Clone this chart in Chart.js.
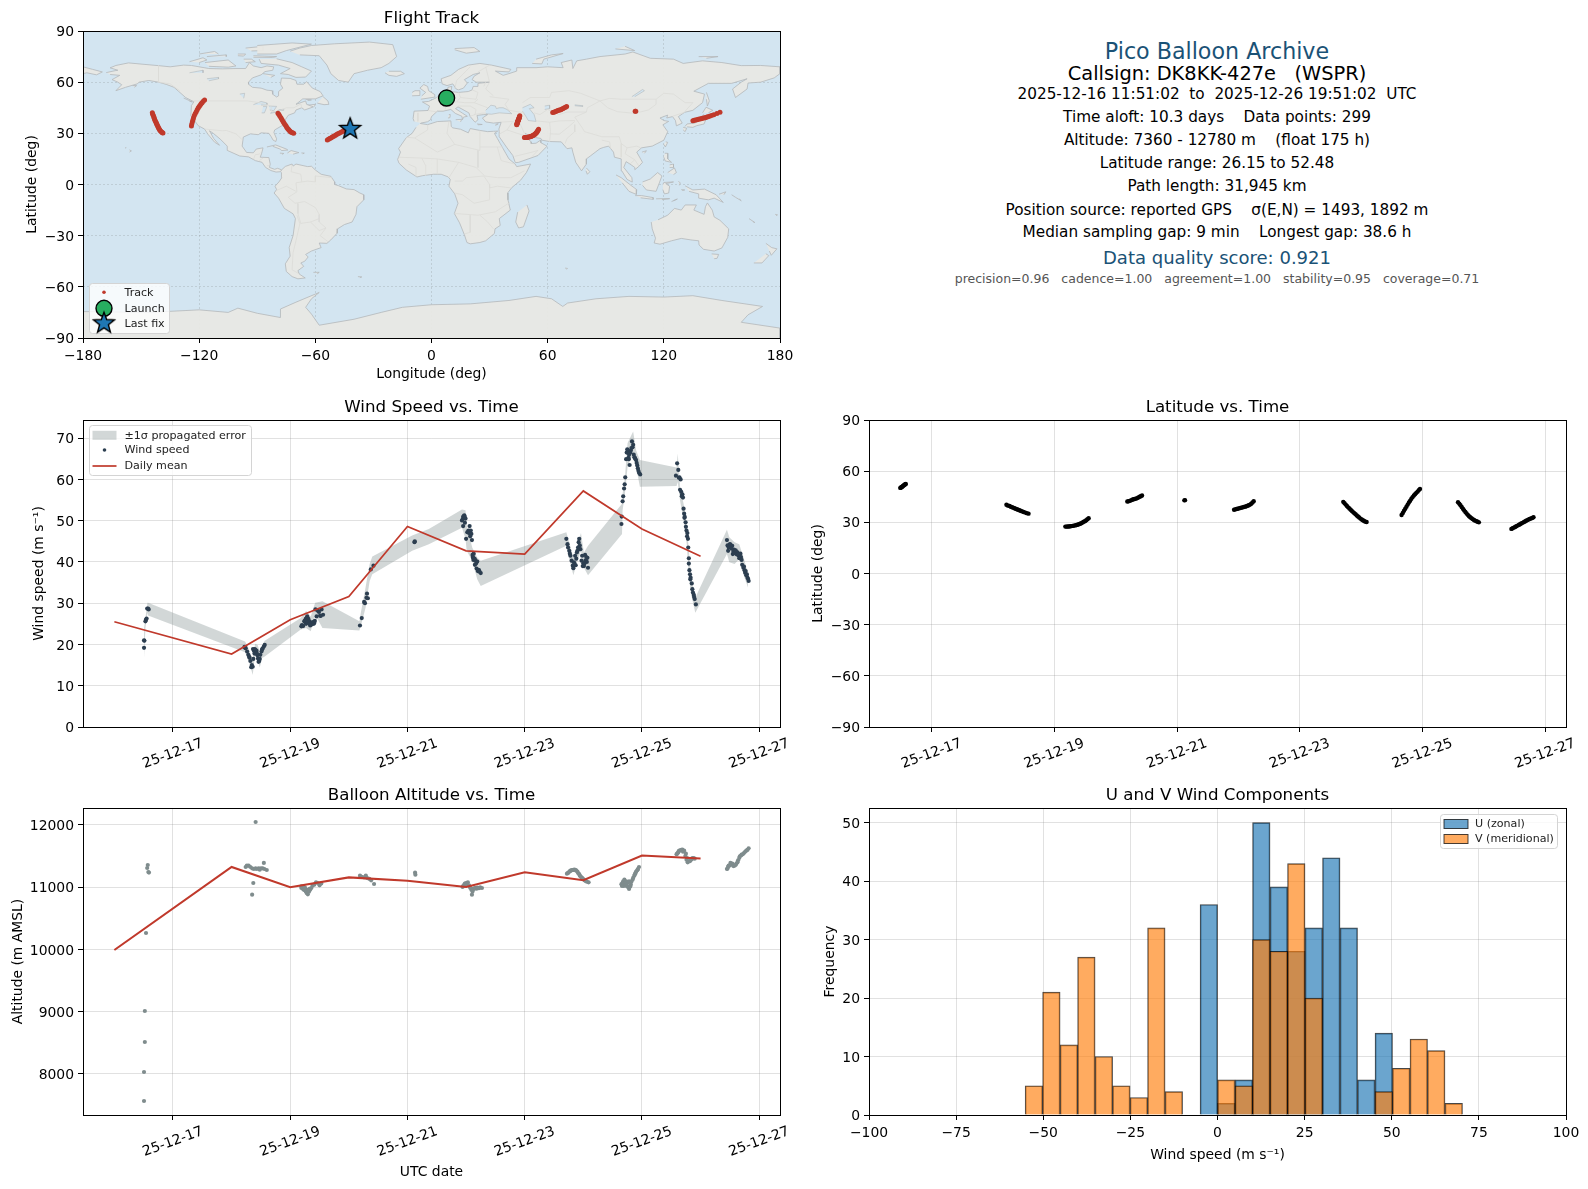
<!DOCTYPE html>
<html><head><meta charset="utf-8"><title>Pico Balloon Archive</title>
<script src="https://cdn.jsdelivr.net/npm/chart.js@4"></script>
<style>
html,body{margin:0;padding:0;background:#fff;width:1588px;height:1189px;overflow:hidden;font-family:"DejaVu Sans",sans-serif}
canvas{position:absolute}
.info{position:absolute;left:1217px;transform:translate(-50%,-50%);white-space:pre;color:#000}
</style></head><body>
<script>
// ---------- categories / ticks ----------
const timeTicks=[17,19,21,23,25,27];
const timeTickLabels=['25-12-17','25-12-19','25-12-21','25-12-23','25-12-25','25-12-27'];
const lonTicks=[-180,-120,-60,0,60,120,180];
const latTicks=[-90,-60,-30,0,30,60,90];
const windTicks=[0,10,20,30,40,50,60,70];
const altTicks=[8000,9000,10000,11000,12000];
const histXTicks=[-100,-75,-50,-25,0,25,50,75,100];
const histYTicks=[0,10,20,30,40,50];
const infoLines=[
 ['Pico Balloon Archive',51,22.2,'#1a5276'],
 ['Callsign: DK8KK-427e   (WSPR)',73,19.4,'#000'],
 ['2025-12-16 11:51:02  to  2025-12-26 19:51:02  UTC',94,15.28,'#000'],
 ['Time aloft: 10.3 days    Data points: 299',117,15.28,'#000'],
 ['Altitude: 7360 - 12780 m    (float 175 h)',140,15.28,'#000'],
 ['Latitude range: 26.15 to 52.48',163,15.28,'#000'],
 ['Path length: 31,945 km',186,15.28,'#000'],
 ['Position source: reported GPS    σ(E,N) = 1493, 1892 m',209.5,15.28,'#000'],
 ['Median sampling gap: 9 min    Longest gap: 38.6 h',232,15.28,'#000'],
 ['Data quality score: 0.921',257,18.05,'#1a5276'],
 ['precision=0.96   cadence=1.00   agreement=1.00   stability=0.95   coverage=0.71',278,12.5,'#555'],
];
// ---------- track ----------
const trackDay=[16.49,16.50,16.51,16.52,16.53,16.54,16.55,16.56,16.57,16.58,
18.22,18.24,18.27,18.29,18.31,18.33,18.35,18.37,18.39,18.41,18.43,18.45,18.47,18.50,18.53,18.55,18.58,
19.18,19.20,19.22,19.24,19.26,19.28,19.30,19.32,19.34,19.36,19.38,19.40,19.42,19.44,19.46,19.48,19.50,19.52,19.54,19.56,
20.19,20.21,20.23,20.25,20.27,20.29,20.31,20.33,20.35,20.37,20.39,20.41,20.43,
21.12,21.13,
21.93,21.95,21.97,21.99,22.01,22.03,22.05,22.07,22.09,22.11,22.13,22.15,22.17,22.19,22.21,22.23,22.25,
23.71,23.73,23.75,23.77,23.79,23.81,23.83,23.85,23.87,23.89,23.91,23.93,23.95,23.97,23.99,24.01,24.03,24.05,24.07,24.09,
24.66,24.68,24.70,24.72,24.74,24.76,24.78,24.80,24.82,24.84,24.86,24.88,24.90,24.92,24.94,24.96,
25.58,25.60,25.62,25.64,25.66,25.68,25.70,25.72,25.74,25.76,25.78,25.80,25.82,25.84,25.86,25.88,25.90,25.92,
26.45,26.47,26.49,26.51,26.53,26.55,26.57,26.59,26.61,26.63,26.65,26.67,26.69,26.71,26.73,26.75,26.77,26.79,26.81];
const trackLon=[7.6,7.8,8.0,8.2,8.4,8.6,8.8,9.0,9.2,9.4,
45.6,45.5,45.4,45.3,45.2,45.1,45.0,44.9,44.8,44.7,44.6,44.5,44.4,44.3,44.2,44.1,44.0,
48.0,48.4,48.9,49.3,49.7,50.1,50.6,51.0,51.4,51.8,52.2,52.6,53.0,53.4,53.8,54.1,54.4,54.7,55.0,55.3,
62.6,63.2,63.8,64.4,65.0,65.6,66.2,66.8,67.4,68.0,68.6,69.2,69.8,
105.2,105.5,
135.0,135.7,136.4,137.1,137.8,138.5,139.2,139.9,140.6,141.3,142.0,142.7,143.6,144.6,145.8,147.4,149.0,
-144.2,-144.0,-143.7,-143.4,-143.2,-143.0,-142.7,-142.4,-142.1,-141.9,-141.6,-141.3,-141.1,-140.8,-140.5,-140.2,-139.8,-139.4,-139.0,-138.7,
-124.0,-123.8,-123.5,-123.2,-122.9,-122.5,-122.0,-121.5,-121.0,-120.5,-120.0,-119.5,-119.0,-118.5,-117.9,-117.2,
-79.3,-78.8,-78.3,-77.7,-77.2,-76.7,-76.2,-75.7,-75.2,-74.8,-74.4,-74.0,-73.6,-73.2,-72.8,-72.4,-71.8,-71.2,
-53.8,-53.2,-52.6,-52.0,-51.4,-50.8,-50.2,-49.6,-49.0,-48.4,-47.7,-47.0,-46.3,-45.6,-44.9,-44.2,-43.5,-42.7,-42.0];
const trackLat=[50.2,50.4,50.6,50.9,51.2,51.5,51.8,52.1,52.3,52.48,
40.3,39.9,39.6,39.2,38.9,38.6,38.3,38.0,37.7,37.4,37.1,36.8,36.5,36.1,35.7,35.4,35.1,
27.5,27.5,27.6,27.6,27.7,27.8,27.9,28.1,28.2,28.4,28.6,28.9,29.2,29.5,29.9,30.3,30.7,31.2,31.8,32.4,
42.2,42.4,42.6,42.9,43.2,43.5,43.7,43.9,44.2,44.6,45.0,45.3,45.7,
42.9,43.0,
37.4,37.6,37.8,38.0,38.2,38.4,38.6,38.8,39.0,39.2,39.4,39.7,40.0,40.4,40.9,41.6,42.4,
42.0,41.2,40.4,39.6,38.8,38.1,37.4,36.7,36.0,35.4,34.7,34.0,33.4,32.8,32.2,31.7,31.2,30.8,30.4,30.2,
34.3,35.5,36.8,38.0,39.2,40.4,41.6,42.7,43.8,44.8,45.7,46.5,47.3,48.0,48.8,49.6,
41.8,41.0,40.0,39.0,38.0,37.0,36.1,35.2,34.4,33.6,33.0,32.4,31.9,31.4,31.0,30.6,30.3,30.0,
26.15,26.5,26.9,27.3,27.7,28.1,28.5,28.9,29.3,29.7,30.1,30.5,30.9,31.3,31.7,32.0,32.3,32.6,33.0];
const launchLon=[7.8], launchLat=[50.7];
const lastLon=[-42.0], lastLat=[32.6];
// ---------- wind ----------
const windDay=[16.506,16.507,16.512,16.53,16.54,16.55,16.56,16.575,16.585,
18.22,18.24,18.265,18.285,18.305,18.32,18.335,18.345,18.36,18.365,18.37,18.38,18.395,18.405,18.425,18.44,18.45,18.46,18.47,18.49,18.51,18.53,18.55,18.565,
19.19,19.20,19.22,19.24,19.26,19.265,19.27,19.28,19.29,19.30,19.31,19.32,19.33,19.34,19.35,19.365,19.39,19.41,19.43,19.45,19.49,19.51,19.535,19.56,
20.19,20.22,20.26,20.275,20.30,20.31,20.325,20.375,20.42,
21.12,21.125,
21.93,21.95,21.97,21.99,21.95,22.06,22.04,22.08,21.98,22.09,22.0,22.10,22.11,22.13,22.12,22.14,22.16,22.15,22.19,22.18,22.20,22.21,22.25,
23.71,23.73,23.76,23.78,23.80,23.82,23.83,23.84,23.86,23.87,23.89,23.90,23.92,23.93,23.95,23.97,23.99,24.01,24.03,24.04,24.07,24.08,24.06,
24.65,24.655,24.67,24.68,24.695,24.705,24.715,24.73,24.76,24.775,24.79,24.80,24.81,24.83,24.85,24.87,24.84,24.885,24.91,24.93,24.95,24.97,
25.58,25.60,25.62,25.64,25.66,25.67,25.685,25.70,25.71,25.72,25.725,25.745,25.76,25.775,25.785,25.80,25.80,25.82,25.825,25.85,25.86,25.885,25.90,25.92,
26.45,26.47,26.49,26.50,26.52,26.54,26.55,26.57,26.59,26.61,26.63,26.65,26.67,26.69,26.71,26.73,26.75,26.76,26.78,26.80,26.82,
18.23,18.30,18.39,18.43,18.48,18.52,
19.21,19.25,19.28,19.30,19.33,19.36,19.38,19.40,19.42,19.47,19.52,
21.94,21.96,21.98,22.02,22.05,22.07,22.115,22.125,22.145,22.17,22.22,22.23,
23.74,23.77,23.85,23.88,23.91,23.94,23.98,24.0,24.02,24.05,
24.74,24.75,24.77,24.78,24.82,24.86,24.88,24.90,24.92,24.94,
25.63,25.65,25.68,25.69,25.73,25.75,25.77,25.79,25.81,25.83,25.87,25.89,
26.46,26.48,26.51,26.53,26.56,26.58,26.60,26.62,26.64,26.66,26.68,26.70,26.74,26.77,26.79,26.81];
const windSpeed=[19.2,21.0,20.9,25.6,26.0,26.3,28.7,28.7,28.5,
19.4,19.1,18.3,17.5,16.8,16.0,14.5,15.0,14.6,18.9,16.5,18.5,18.9,18.7,18.5,17.4,16.6,15.8,16.0,17.5,18.3,19.0,19.5,19.9,
24.4,24.7,24.5,25.6,25.4,26.2,25.0,26.4,26.8,25.8,26.2,25.2,25.6,24.6,25.0,25.2,25.4,25.2,28.5,26.8,27.9,27.0,28.5,27.2,
24.6,26.4,30.3,30.0,31.3,32.3,31.2,38.2,39.1,
44.8,45.0,
50.05,50.9,51.3,50.5,48.7,48.7,47.6,47.6,49.5,46.8,45.6,45.3,41.7,42.0,41.0,40.7,40.4,39.3,40.1,38.4,37.8,38.0,37.3,
45.6,44.3,42.7,41.5,40.3,39.1,38.5,39.9,41.5,39.2,42.3,42.7,44.8,45.6,43.1,40.3,39.0,39.0,41.7,40.4,41.0,38.6,40.0,
49.2,51.0,54.7,55.9,57.8,58.8,60.5,64.9,67.0,64.9,63.5,66.5,67.0,69.2,68.4,65.4,67.8,65.0,64.0,62.7,61.6,61.2,
60.9,63.9,62.3,60.5,60.0,57.0,56.2,55.6,52.9,51.7,50.7,49.6,47.6,47.0,45.6,40.9,39.6,37.0,35.8,34.8,33.4,32.0,31.0,29.7,
45.3,42.7,44.0,44.3,43.5,43.9,41.9,43.0,42.7,42.0,42.3,41.5,41.9,41.2,39.3,38.6,38.0,37.4,36.8,36.2,35.4,
19.2,17.0,17.8,17.9,16.5,18.8,
24.5,25.8,25.9,25.3,25.0,24.8,25.3,25.0,25.7,28.2,26.9,
50.3,51.1,50.8,47.2,47.0,46.2,41.2,40.5,40.8,39.6,38.0,37.6,
43.5,42.0,39.5,40.8,43.5,44.0,41.5,39.7,39.6,41.2,
66.5,67.3,65.2,66.0,67.6,66.0,65.2,64.7,63.4,62.1,
60.4,57.5,55.9,56.4,50.9,48.5,46.2,43.5,38.0,36.2,32.6,31.5,
44.0,43.5,44.2,43.2,42.5,42.2,42.8,41.8,41.9,40.9,42.0,40.5,38.9,37.8,37.0,35.9];
const bandDay=[16.507,16.53,16.564,16.575,18.23,18.275,18.33,18.36,18.40,18.445,18.48,18.52,18.565,19.18,19.27,19.35,19.425,19.55,20.18,20.21,20.285,20.355,20.40,21.08,21.365,21.93,21.99,22.01,22.105,22.19,22.25,23.71,23.76,23.83,23.90,23.96,24.01,24.08,24.66,24.67,24.71,24.755,24.85,24.90,24.965,25.59,25.61,25.65,25.71,25.765,25.80,25.84,25.91,26.45,26.49,26.58,26.66,26.75,26.81];
const bandUpper=[24.0,26.4,30.1,30.1,20.7,19.5,17.5,16.3,20.2,19.9,18.3,19.9,20.9,26.4,28.1,26.8,30.1,30.5,25.6,28.1,33.8,39.5,41.3,46.4,48.0,52.7,52.5,48.8,43.5,41.1,40.3,47.2,44.8,41.1,44.3,47.0,42.3,43.9,54.1,56.6,60.6,68.8,71.6,67.1,64.7,62.9,66.3,58.2,54.1,49.2,42.7,36.2,31.3,47.8,46.0,44.8,44.3,40.3,37.0];
const bandLower=[16.7,24.0,27.7,27.0,18.1,16.7,14.2,12.6,17.5,16.3,14.4,16.7,17.1,23.6,24.0,23.2,27.2,24.0,23.4,24.8,28.9,35.4,37.0,42.7,44.3,48.3,45.6,42.7,40.3,35.8,34.2,43.9,40.7,36.8,40.3,42.7,38.6,36.8,46.8,52.5,56.6,63.1,66.3,63.1,58.2,58.4,59.4,54.9,50.0,44.3,36.2,32.1,27.7,41.9,39.9,39.5,40.7,36.2,33.8];
const meanDay=[16,18,19,20,21,22,23,24,25,26];
const windMean=[25.5,17.7,26.0,31.6,48.6,42.7,41.9,57.2,48.0,41.4];
const altMean=[9992,11325,11000,11159,11105,11004,11240,11112,11510,11462];
// ---------- altitude ----------
const altDay=[16.506,16.506,16.52,16.52,16.54,16.57,16.56,16.58,16.59,
18.24,18.26,18.29,18.32,18.35,18.38,18.41,18.43,18.46,18.48,18.50,18.53,18.55,18.56,18.60,18.41,18.37,18.35,
19.19,19.19,19.22,19.22,19.25,19.25,19.27,19.28,19.30,19.29,19.32,19.34,19.36,19.38,19.41,19.44,19.47,19.50,19.53,
20.19,20.22,20.26,20.29,20.31,20.35,20.38,20.43,
21.13,21.135,
21.94,21.97,22.0,22.03,22.06,22.10,22.09,22.12,22.15,22.18,22.21,22.24,22.27,
23.72,23.75,23.78,23.81,23.85,23.88,23.91,23.94,23.98,24.02,24.06,24.09,
24.66,24.68,24.70,24.73,24.76,24.78,24.78,24.81,24.84,24.87,24.89,24.92,24.95,
25.60,25.62,25.65,25.69,25.72,25.75,25.77,25.80,25.83,25.86,25.90,
26.45,26.48,26.51,26.54,26.58,26.61,26.64,26.67,26.70,26.74,26.78,26.82,
19.21,19.23,19.24,19.26,19.27,19.31,19.33,
21.95,21.98,22.02,22.05,22.07,22.11,22.13,22.16,22.19,22.22,
23.74,23.77,23.80,23.83,23.87,23.90,23.93,23.96,24.0,24.04,
24.65,24.66,24.67,24.69,24.71,24.72,24.74,24.75,24.77,24.80,24.82,24.85,24.88,24.90,24.93,
25.59,25.61,25.63,25.67,25.70,25.74,25.76,25.78,25.82,25.85,25.88,
26.46,26.47,26.50,26.53,26.56,26.60,26.63,26.66,26.69,26.72,26.76,26.80];
const altValue=[7566,8032,8514,9012,10265,11357,11309,11245,11235,
11325,11347,11347,11325,11304,11293,11304,11293,11304,11282,11304,11304,11390,11293,11277,12048,11068,10881,
11015,10988,10972,11010,10950,11000,10934,10908,10886,10960,10929,10961,10988,11025,11041,11079,11068,11031,11060,
11186,11165,11160,11186,11149,11133,11111,11052,
11234,11202,
11004,11041,11068,11079,11015,10881,10961,10977,10988,10977,10988,10998,10988,
11218,11240,11266,11277,11282,11266,11229,11186,11149,11111,11090,11079,
11041,11095,11122,11095,11079,11095,10972,11041,11122,11186,11229,11272,11325,
11539,11561,11593,11604,11588,11539,11470,11416,11432,11470,11459,
11293,11347,11390,11379,11347,11379,11432,11497,11523,11550,11588,11625,
10990,10960,10985,10960,10930,10950,10975,
11020,11060,11050,11030,10990,10930,10970,10985,10995,10985,
11230,11255,11272,11280,11275,11250,11210,11165,11130,11100,
11050,11020,11070,11020,11060,11030,11040,11010,11000,11010,11090,11150,11210,11250,11290,
11530,11550,11585,11600,11570,11500,11440,11400,11420,11450,11470,
11300,11330,11350,11370,11340,11360,11400,11470,11510,11530,11570,11600];
// ---------- histogram ----------
const binCentersU=[-2.49,2.53,7.55,12.57,17.59,22.61,27.63,32.65,37.67,42.69,47.71];
const binCountsU=[36,2,6,50,39,28,32,44,32,6,14];
const binCentersV=[-52.69,-47.67,-42.65,-37.63,-32.61,-27.59,-22.57,-17.55,-12.53,2.53,7.55,12.57,17.59,22.61,27.63,47.71,52.73,57.75,62.77,67.79];
const binCountsV=[5,21,12,27,10,5,3,32,4,6,5,30,28,43,20,4,8,13,11,2];
// ---------- map geography (lon,lat) ----------
const northAmerica=[[-168,65.6],[-164,66.6],[-162,67],[-166,68.4],[-163,69.8],[-156.5,71.3],[-148,70.4],[-141,69.7],[-135,69],[-128,70],[-124,69.8],[-115,68],[-108,67.8],[-101,68],[-96,68],[-94,71.5],[-92,69.5],[-88,68.5],[-85,69.5],[-81.5,69],[-82,67],[-86,66.2],[-88,64.3],[-92.5,62.5],[-94.5,60],[-94.5,58.8],[-92.5,57],[-88,56.5],[-85,55.3],[-82.3,55],[-82,52.9],[-80,51.3],[-79,52],[-79,54.5],[-76.8,56.5],[-78,58.8],[-77.5,62.4],[-73,62.2],[-70,61],[-69.5,58.8],[-66,58.8],[-64.5,60.3],[-61.5,56.5],[-57.5,54.5],[-56,52],[-60,50.2],[-66.5,50.2],[-70,47],[-65,49],[-64.5,47],[-61,45.5],[-65.5,43.7],[-67,45],[-70,43.7],[-70.7,42],[-74,40.6],[-75.5,38],[-76,35.5],[-77.5,34.3],[-81,32],[-81.4,30.5],[-80,26.8],[-80.4,25.2],[-81.8,26],[-82.8,28],[-84,30],[-88,30.3],[-89.5,29.2],[-93.5,29.7],[-97.2,27.8],[-97.8,22.5],[-95.5,18.8],[-92,18.6],[-90.5,20.8],[-87,21.5],[-87.8,18],[-88.5,16],[-84,15.8],[-83.3,12],[-83.7,10],[-81,8.9],[-79.5,9.5],[-77.4,8.6],[-78,7.5],[-80.3,7.3],[-83,8.2],[-85.7,10],[-87.5,13],[-91,14],[-94.5,16.2],[-99,16.7],[-105.5,20],[-105.5,22.5],[-109,26.5],[-112.7,30],[-114.7,31.5],[-112.5,27],[-109.5,23],[-112,24.8],[-115.5,29.5],[-117.2,32.5],[-120.5,34.5],[-122.5,37.7],[-124.3,40.3],[-124,46.3],[-122.7,48.5],[-127,51],[-130.5,54.5],[-133,57],[-137,58.7],[-141,60],[-146,61],[-151,60],[-152,59],[-158,57],[-163,55],[-160,58.5],[-162,60],[-165,61.5],[-161,64],[-166,64.5]];
const southAmerica=[[-77.4,8.6],[-75.5,10.6],[-72,12],[-71.5,10.8],[-70,12],[-64,10.5],[-62,10.7],[-60,8.5],[-57,6],[-52,4.8],[-50,1.5],[-50,0],[-48,-0.7],[-44,-2.6],[-40,-3],[-37,-5],[-35,-6],[-35,-9],[-38.5,-13],[-39,-17.5],[-41,-22],[-45,-23.5],[-48.5,-26],[-48.7,-28.5],[-52,-32.5],[-54,-34.5],[-58,-34.3],[-57,-37],[-62,-39],[-65,-41],[-63.7,-42.5],[-65.5,-45],[-67.5,-46],[-66,-48],[-69,-50.5],[-68.3,-52.5],[-65.2,-54.8],[-69,-55.3],[-72,-54],[-75,-51],[-75.5,-46.5],[-73,-42],[-73.5,-37],[-71.5,-30],[-70.3,-20],[-71.5,-17.2],[-76,-14],[-79,-8],[-81.3,-5],[-80,-3],[-80.8,-1],[-78.8,1.5],[-77.3,4],[-77.5,7],[-78,7.5]];
const africa=[[-5.9,35.8],[-2,35.1],[3,36.9],[10,37.3],[10.2,34],[11,33.2],[15,32.4],[19,30.3],[20,32.8],[25,31.7],[29,31],[32,31.2],[34.2,31.3],[32.5,30],[34,27],[35.5,24],[37,21],[38.5,18],[40,15],[43.2,12],[44,10.5],[51.2,12],[49,7],[46,2.5],[41.5,-1.8],[39.3,-5],[39.5,-9],[40.7,-15],[35,-20],[35.5,-24],[32.8,-26],[32.5,-28.7],[28,-33],[25,-34],[20,-34.8],[18.3,-34],[17,-29.5],[14.5,-22.5],[11.8,-17],[13.7,-11],[12,-5.5],[9,-1],[9.7,3],[8.5,4.5],[5,6],[1,6],[-4.5,5.2],[-7.5,4.4],[-13,8.5],[-16.8,12.5],[-17.5,14.7],[-16,19],[-17,21],[-13,27.5],[-10,30],[-8,33.5]];
const eurasia=[[-9,37],[-9.5,38.7],[-9,43],[-1.8,43.4],[-1,46],[-4.7,48.4],[-1.5,48.7],[1.5,50.3],[4,52],[8,53.7],[8.5,57],[10.5,57.5],[10,54.5],[14,54],[19,54.5],[21,55.5],[21.5,57.5],[24,57.5],[24,59.3],[30,60],[23,60],[21,61.5],[22,63.5],[25,65.5],[21.5,64.5],[17,61.5],[18.5,59.5],[16.5,56.5],[14,55.5],[12.7,56],[11,59],[8,58],[5.5,59],[5,62],[10,64],[14,67.5],[19,70],[25,71],[31,70],[41,67.5],[40,66],[33,66.5],[37,64],[40,65],[44,66.5],[44,68.5],[54,68.5],[60,69],[68,68.5],[67,71.5],[72.5,73],[73,68],[75,72.5],[80,73.5],[87,75],[100,76.5],[104,77.7],[113,74],[125,73.5],[130,71],[140,72.5],[150,71.5],[160,69.7],[170,69.8],[180,69],[180,65],[177,62.5],[170,60],[163.5,59.5],[163,56],[157,51],[155.5,56],[160,60],[163,62],[155,59.3],[143,59.3],[135.5,54.7],[141,53],[140,48],[135,43.5],[130.7,42.3],[127.5,39.8],[129.5,36],[126.5,34.4],[126,37.5],[124.5,39.8],[121.5,39],[122,40.7],[118,39],[120,37.5],[122.5,37],[119.5,35],[122,31],[120,26],[114,22.5],[108.5,21.5],[106,19],[109,13],[107,10.5],[105,8.7],[105,10],[102.5,12],[100.5,13.4],[99.3,10],[103.5,4],[103.7,1.4],[101,3],[98.3,8],[98,15],[94.5,16],[94,19],[91.5,22.5],[89,21.8],[87,21],[82,16.7],[80,15],[80,12],[77.5,8],[74.5,13],[73,19],[72.5,21.5],[70,21],[67,25],[61,25.2],[57,26],[56.5,27],[51,28],[48.5,30],[50,26.5],[51.5,25],[51.5,24],[54,24.2],[56.3,26],[56.5,24.5],[59.7,22.5],[55,17],[45,13],[43.3,12.8],[42,17],[39,21.5],[35,28],[34.9,29.5],[35,31],[34.8,32.5],[36,36.5],[32,36],[28,36.7],[26.3,39],[29,41],[27,41],[23.5,40.5],[24,38],[22.5,36.5],[20,39.8],[19.3,42],[13.7,45.5],[12.4,44.5],[16,41.8],[18.5,40],[16.5,39.5],[16,38],[15.7,40],[12.3,41.7],[10,44],[6,43],[3,43],[0,39.8],[-0.5,38],[-2,36.8],[-5.5,36]];
const antarctica=[[-180,-90],[-180,-74.5],[-146,-75],[-120,-73.5],[-105,-75],[-100,-72.5],[-90,-75.5],[-78,-78],[-78,-73],[-70,-69],[-58,-63.3],[-62,-67],[-65,-72],[-62,-76],[-58,-82.5],[-40,-79],[-26,-75],[-15,-72],[0,-70.5],[20,-70],[40,-68],[54,-65.6],[62,-67],[67.8,-71.5],[70.3,-69.5],[85,-67],[102,-65.6],[120,-66],[135,-65.2],[150,-68],[171,-71.5],[163.5,-76.4],[160,-80.8],[180,-84.2],[180,-90]];
const australia=[[113.5,-22],[114,-26],[115.7,-31.5],[115,-34.3],[118,-35],[124,-33],[129,-31.6],[134,-32.5],[138,-33],[138.2,-35.5],[140.5,-38],[146,-39],[150,-37.2],[153,-31],[153.5,-26],[149,-21],[146,-19],[145,-15],[142.5,-10.8],[141.5,-13],[140.8,-17.5],[135.5,-15],[136.8,-12],[131,-12],[129,-15],[125.5,-14],[122,-18],[117,-20.7]];
const greenland=[[-73,78.2],[-68,80],[-62,81.5],[-50,82.5],[-32,83.5],[-20,82],[-18,75],[-22,71],[-26,68.5],[-33,67],[-40,65],[-43,60],[-48,61],[-52,65],[-54,70],[-58,75.5],[-68,76]];
const islands=[
 [[-80,73.7],[-72,71.5],[-67,69],[-62,66.5],[-65,63],[-70,62.8],[-74,64.5],[-78,65],[-73,68],[-79,70],[-88,71],[-89,73.5]],
 [[-117,71.5],[-105,73],[-101,69.5],[-105,68.8],[-115,69.3]],
 [[-125,72],[-118,74.3],[-116,73],[-120,71.5]],
 [[-90,76.5],[-80,76.5],[-75,78.5],[-62,82.3],[-72,83],[-90,81.5]],
 [[-92,75.5],[-80,75],[-82,74.5],[-92,74.6]],
 [[-116,75],[-106,76],[-106,75]],
 [[-97,73.5],[-93,73.5],[-91,72],[-96,71.5]],
 [[-100,76.5],[-96,76.5],[-97,75.3],[-100,75.5]],
 [[-120,76.5],[-112,78],[-110,76.5]],
 [[-96,80],[-87,81],[-87,78.5],[-93,78.3]],
 [[-59,47.7],[-55.5,46.8],[-53,47],[-53.5,49],[-56,51.5]],
 [[-87,65],[-81,64],[-83,62.8]],
 [[-65,50],[-62,49.6],[-64,49.2]],
 [[-64,46.5],[-60,47],[-60.5,45.7]],
 [[-85,22],[-80.5,23.2],[-75,20.8],[-74.2,20.2],[-77.5,19.9],[-78,20.7],[-82,22.4]],
 [[-74.4,18.5],[-72.5,19.9],[-68.5,18.7],[-71.5,17.8]],
 [[-78.3,18.4],[-76.3,18.2],[-77.2,17.7]],
 [[-67.2,18.5],[-65.7,18.4],[-66.5,18]],
 [[-156,19],[-155,19.7],[-156,20.3]],
 [[-158.2,21.6],[-157.7,21.6],[-158,21.3]],
 [[-128,50.7],[-123.5,48.4],[-125,48.8]],
 [[-154.5,58],[-152.3,58],[-153.5,57]],
 [[-180,69],[-175,67.5],[-170,66],[-173,64.3],[-178,65.5],[-180,65]],
 [[-5.5,50],[1.4,51.2],[1.7,52.7],[-1.5,55],[-2,57.5],[-4,58.6],[-6,56.5],[-3,54],[-5,52]],
 [[-10,52],[-6,52.2],[-6,55],[-8.5,55],[-10,54]],
 [[-24,65.5],[-22,64],[-18,63.4],[-14,65],[-16,66.4],[-22,66.4]],
 [[12,79],[18,77],[25,78],[22,80.3],[12,79.7]],
 [[52,71],[57,70.7],[58,73.5],[68,76.8],[62,76],[54,73.5]],
 [[95,79.5],[105,78.5],[100,81]],
 [[138,75],[148,75],[142,74]],
 [[142,54],[143.5,49],[142.5,46],[142,50]],
 [[130.9,34],[132,35.5],[136,36],[139,38],[140.5,41],[142,39],[140.8,35.5],[137,34.5],[135,33.5],[132,33.8]],
 [[130,33.5],[131.8,33],[131,31],[130,32]],
 [[140,42],[141.8,45.3],[145.3,43.5],[143,42]],
 [[121,25],[122,24.7],[120.8,22],[120,23.5]],
 [[108.7,19],[111,19.8],[110,18.3]],
 [[120.5,18.3],[122,18.3],[122,15],[124,13],[120.7,13.8],[120,16]],
 [[122,7],[125.5,9.7],[126.5,7],[125,5.8]],
 [[123,11.5],[125,12],[125,10],[123,10]],
 [[80,9.7],[81.8,7.5],[80.5,6],[79.8,8]],
 [[95.3,5.6],[98,4],[103,-0.5],[106,-3],[105.8,-5.8],[102,-4],[98.5,1]],
 [[105.2,-6.5],[108.5,-6.5],[114.5,-7.7],[114.5,-8.7],[108,-7.8]],
 [[109,1.5],[113,3.2],[116.8,7],[119,5],[117.7,1],[116,-4],[111,-3.2],[109,-0.5]],
 [[119.5,0],[120,1.2],[125,1.5],[121,0.5],[123,-1],[122.5,-5],[120.3,-5.5],[119.5,-3]],
 [[131,-0.8],[135,-3.2],[141,-2.7],[147,-6],[150.7,-10.5],[146,-8],[143,-9],[138,-8],[138,-5.5],[133,-4]],
 [[124,-10],[127,-8.5],[125,-9.5]],
 [[116,-8.4],[119,-8.3],[123,-8.3],[119,-8.9]],
 [[127.5,1.8],[128.5,1],[128,-0.5]],
 [[129,-3],[130.8,-3.2],[129.5,-3.5]],
 [[148.5,-5.7],[152,-4.3],[151,-6]],
 [[155,-6],[157,-7.5],[160,-9.5],[159,-8.5]],
 [[164,-20],[167,-22.3],[166,-21.8]],
 [[177.5,-17.5],[178.7,-17.8],[178,-18.3]],
 [[144.7,-40.7],[148.3,-41],[147.5,-43.3],[146,-43.5]],
 [[172.7,-34.5],[175.7,-37],[178.4,-37.7],[175.5,-41.5],[174.5,-39]],
 [[172.7,-40.6],[174.2,-41.7],[170.7,-46],[166.5,-46]],
 [[49.3,-12],[50.4,-15.5],[47.5,-24.8],[45,-25.5],[43.5,-22],[44.5,-16.2]],
 [[69,-49],[70.2,-49.2],[69.8,-49.8]],
 [[-61,-51.5],[-58,-51.5],[-59,-52.3]],
 [[-38,-54],[-36,-54.2],[-37,-54.6]],
 [[9,41],[9.7,41],[9.5,39.2],[8.5,39]],
 [[12.5,38],[15.6,38.2],[15,36.7]],
 [[33,35.3],[34.5,35.6],[33,34.6]],
 [[23.5,35.5],[26.2,35.2],[24,35]]
];
const inlandWater=[
 [[28,41.5],[31,41.2],[35,42],[41.5,41.5],[39,44],[37,45],[35,45],[33.5,44.5],[33,46],[30.7,46.5],[28,43.5]],
 [[47,45],[51,47],[53,45],[50.5,44.5],[53,41],[54,37],[50,37.5],[49,39.5],[47,43]],
 [[58.5,46],[61,46.5],[61,44.5],[58.5,44]],
 [[-92,46.8],[-88,48.7],[-85,47.8],[-85,46.6],[-88,46.6]],
 [[-87.7,42],[-86.3,42],[-85,45.7],[-87,45.7]],
 [[-84,46],[-80,45.8],[-81.5,43.2],[-83.5,43.7]],
 [[-83.3,41.7],[-79,42.7],[-79,43],[-83,42.2]],
 [[-79.5,43.3],[-76.3,43.5],[-76.3,44.1],[-79,43.8]],
 [[-125,65.5],[-118,67],[-118,65.5]],
 [[-116,62],[-110,62.8],[-110,62],[-115,60.8]],
 [[-99,53],[-96.5,53.5],[-97,50.5]],
 [[103.5,51.5],[109,55.7],[110,55],[105,51.5]],
 [[74,46.7],[78,46.2],[78,45.8],[74,46.2]]
];
const countryBorders=[
 [[-123,49],[-95,49],[-89,48],[-83,46],[-82.5,42.5],[-79,43],[-75,45],[-71,45],[-67.5,47.3],[-67,45]],
 [[-141,69.7],[-141,60],[-135,59],[-130,55]],
 [[-117,32.5],[-108,31.5],[-106,31.7],[-101,29.7],[-97.5,26]],
 [[-92,14.7],[-91,17.5],[-89,17.8],[-88.3,18.5]],[[-89,14],[-87,15.5]],[[-85,11],[-83.7,11]],
 [[-51.5,4],[-60,5],[-60,1.5],[-64,2],[-67,1.5],[-70,1],[-69.5,-4.3],[-74,-7.5],[-70.5,-11],[-65.5,-10],[-60,-13.5],[-58,-17.5],[-58,-22],[-54.5,-25.5],[-57.5,-30],[-53.5,-33.5]],
 [[-69.5,-18],[-68,-23],[-70,-33],[-71.5,-40],[-72,-50],[-68.5,-52.3]],
 [[-72,11.5],[-72.5,7.5],[-67.5,6],[-67,1.5]],[[-80,-3.5],[-75,-1],[-70,-4]],
 [[-69,-11],[-69,-17],[-67.5,-22.8],[-62.5,-22],[-58,-20]],[[-62.5,-22],[-58,-27],[-54.5,-25.5]],
 [[-13,27.7],[-8.7,27.3],[3,19],[12,23.5],[25,20],[25,31.7]],[[25,22],[37,22]],
 [[-17,16],[-5,15.5],[3,15],[14,13],[23,10],[27.5,5],[34,4],[41,4],[48,8]],[[24,20],[24,10]],[[34,22],[36,14],[43,12]],
 [[12,-5],[16,-6],[22,-11],[30,-9],[30,-2],[34,-1],[41,-2]],[[12,2],[16,2],[18,4],[27,5],[30,0],[30,-2]],
 [[12,-17],[24,-18],[33,-16],[40.5,-10.5]],[[20,-18],[20,-28],[17,-29]],[[25,-18],[29,-22],[32,-26]],
 [[3,6],[3,15]],[[-8,4.5],[-8,10],[-12,12]],[[9,4],[14,13]],[[-3,5],[-3,11],[-5,15.5]],[[9,37],[8,30],[12,23.5]],[[-8.7,27.3],[-2,32],[-2,35]],
 [[-1.8,43.4],[3,42.5]],[[-7,42],[-7,37]],[[2.5,51],[8,49],[7,44]],[[7,54],[6,50]],[[14,54],[15,51],[13,48.5],[10,47.5],[7,47.5]],
 [[15,51],[23,50],[24,54],[21,55.5]],[[27,57.5],[28,60]],[[30,51.5],[40,50],[38,47]],[[24,50],[22,48],[29,45]],[[28,69],[30,60],[28,56],[32,52]],
 [[13,48.5],[17,48],[22,48]],[[20,46],[14,46],[13.5,45.5]],[[22,41],[26,41.8],[28,41.8]],[[20,46],[23,44],[22.5,41],[20,40]],[[12,56],[13,61],[20,69]],[[24,66],[30,70]],
 [[38,47],[40,43.5],[48,42]],[[47,48],[51,51],[61,51],[62,54],[71,55],[77,53.5],[87,49],[92,50.5],[98,50],[107,50],[116,50],[120,53.5],[125,53],[131,48],[135,48],[131,43]],
 [[53,42],[56,41],[60,44],[66,41],[70,42.5],[80,42.5],[80.5,45],[87,49]],[[80,42.5],[74,39.5],[78,33],[79,31],[88,28],[97,28],[98,24],[101,21.5],[106,22.5],[108,21.6]],
 [[87,49],[91,45],[96,42.7],[105,41.7],[112,43.7],[116,47],[116,50]],[[74,35],[74,31],[70,27],[69,24]],[[44.5,39.5],[46,35],[48,30]],
 [[61,25],[61.5,31],[61,36.5],[54,37.3]],[[61,29.7],[66,29.5],[71,34],[74,37]],[[61,36.5],[66,37.3],[74,37.5]],[[34.9,29.5],[39,32],[47,29],[48,29]],
 [[43,16.5],[52,19],[55,20],[52,16.5]],[[36,36.6],[42,37],[44.5,37.5]],[[39,32],[42,37]],[[98,24],[98,16]],[[101,21.5],[100,18],[105,14.5],[102.5,12]],[[107,11],[105,14.5]],[[124.5,40],[130.7,42.3]],[[88,26],[92,25],[92.5,21]]
];
// ---------- colours ----------
const OCEAN='#d3e5f1', LAND='rgba(232,232,228,0.95)', COAST='#b4b8ba', BORDER='#dcdcd8';
const RED='#c0392b', NAVY='#2c3e50', GREY='#7f8c8d', BAND='rgba(127,140,141,0.35)';
const CU='rgba(31,119,180,0.66)', CV='rgba(255,127,14,0.66)', EDGE='rgba(0,0,0,0.72)';
const STAR='#1f77b4', GREEN='#27ae60';
const FONT='"DejaVu Sans"';
const TICKPX=13.9, LABELPX=13.9, TITLEPX=16.67, LEGPX=11.1;

function starImage(R){
  const c=document.createElement('canvas');c.width=c.height=2*R+6;
  const g=c.getContext('2d'),m=R+3;g.beginPath();
  for(let i=0;i<10;i++){const r=i%2?R*0.42:R,a=-Math.PI/2+i*Math.PI/5;g.lineTo(m+r*Math.cos(a),m+r*Math.sin(a));}
  g.closePath();g.fillStyle=STAR;g.fill();g.lineWidth=1.4;g.strokeStyle='#000';g.stroke();return c;
}
const starImg=starImage(11);

const framePlugin={id:'frame',
 beforeDraw(ch,a,o){if(o.background){const r=ch.chartArea;ch.ctx.fillStyle=o.background;ch.ctx.fillRect(r.left,r.top,r.width,r.height);}},
 afterDraw(ch,a,o){
  const c=ch.ctx,r=ch.chartArea;c.save();c.strokeStyle='#000';c.lineWidth=1;
  c.strokeRect(Math.round(r.left)+.5,Math.round(r.top)+.5,Math.round(r.width),Math.round(r.height));
  const L=o.legend;
  if(L){const ox=ch.canvas.offsetLeft,oy=ch.canvas.offsetTop;
   c.beginPath();c.roundRect(L.x-ox,L.y-oy,L.w,L.h,3);c.fillStyle='rgba(255,255,255,0.8)';c.fill();c.strokeStyle='#d4d4d4';c.stroke();
   c.font=LEGPX+'px '+FONT;c.textBaseline='middle';c.textAlign='left';
   L.items.forEach(it=>{const y=it.y-oy,x=L.tx-ox,k=L.kx-ox;
    if(it.kind==='patch'){c.fillStyle=it.fill;c.fillRect(k-12,y-4.5,24,9);if(it.edge){c.strokeStyle=it.edge;c.lineWidth=1;c.strokeRect(k-12,y-4.5,24,9);}}
    else if(it.kind==='line'){c.strokeStyle=it.color;c.lineWidth=1.7;c.beginPath();c.moveTo(k-12,y);c.lineTo(k+12,y);c.stroke();}
    else if(it.kind==='dot'){c.fillStyle=it.color;c.beginPath();c.arc(k,y,it.r,0,7);c.fill();if(it.edge){c.strokeStyle=it.edge;c.lineWidth=1.4;c.stroke();}}
    else if(it.kind==='star'){c.drawImage(starImg,k-starImg.width/2,y-starImg.height/2);}
    c.fillStyle='#222';c.fillText(it.label,x,y+0.5);
   });
  }
  c.restore();
 }};

function pts(xs,ys){return xs.map((x,i)=>({x,y:ys[i]}));}
function poly(p){return p.map(q=>({x:q[0],y:q[1]}));}
function minusFmt(v){return String(v).replace('-','\u2212');}
function nudgeLabels(a,dy){
 if(a._nudged)return;a._nudged=true;
 const orig=a._computeLabelItems;
 a._computeLabelItems=function(ca){const items=orig.call(this,ca);items.forEach(i=>{i.options.translation[1]+=dy;});return items;};
}

function xAxis(p){
 return {type:'linear',min:p.min,max:p.max,bounds:'data',offset:false,
  afterBuildTicks(a){a.ticks=p.ticks.map(v=>({value:v}));},
  afterFit(a){a.height=p.B;},
  afterUpdate(a){if(p.rot){a._getXAxisLabelAlignment=()=>'center';}else{nudgeLabels(a,1);}},
  grid:{color:p.gridColor||'rgba(128,128,128,0.24)',lineWidth:1,tickColor:'#000',tickLength:5,offset:false},
  border:{display:false,dash:p.dash},
  ticks:{autoSkip:false,color:'#000',font:{family:FONT,size:TICKPX},padding:p.rot?14:4,minRotation:p.rot||0,maxRotation:p.rot||0,
    callback:p.labels?(v=>p.labels[p.ticks.indexOf(v)]):minusFmt},
  title:{display:!!p.title,text:p.title,color:'#000',font:{family:FONT,size:LABELPX,lineHeight:1.2},padding:0}};
}
function yAxis(p){
 return {type:'linear',min:p.min,max:p.max,bounds:'data',
  afterBuildTicks(a){a.ticks=p.ticks.map(v=>({value:v}));},
  afterFit(a){a.width=p.L;},
  afterUpdate(a){nudgeLabels(a,1.5);},
  grid:{color:p.gridColor||'rgba(128,128,128,0.24)',lineWidth:1,tickColor:'#000',tickLength:5},
  border:{display:false,dash:p.dash},
  ticks:{autoSkip:false,color:'#000',font:{family:FONT,size:TICKPX},padding:4,callback:minusFmt},
  title:{display:true,text:p.title,color:'#000',font:{family:FONT,size:LABELPX,lineHeight:1.2},padding:0}};
}
function panel(rect,m,title,type,datasets,scales,frame){
 const T=24,cv=document.createElement('canvas');
 cv.width=rect.w+m.L+m.R;cv.height=rect.h+T+m.B;
 cv.style.left=(rect.x-m.L)+'px';cv.style.top=(rect.y-T)+'px';
 cv.style.width=cv.width+'px';cv.style.height=cv.height+'px';
 document.body.appendChild(cv);
 return new Chart(cv,{type,data:{datasets},plugins:[framePlugin],options:{
  responsive:false,animation:false,devicePixelRatio:1,
  layout:{autoPadding:false,padding:{left:0,right:m.R,top:0,bottom:0}},
  plugins:{legend:{display:false},tooltip:{enabled:false},frame:frame||{},
    title:{display:true,text:title,fullSize:false,color:'#000',font:{family:FONT,size:TITLEPX,weight:'normal',lineHeight:1.2},padding:{top:2,bottom:2}}},
  scales}});
}

const timeMinWind=15.465,timeMaxWind=27.355,timeMinLat=15.98,timeMaxLat=27.34;

// ---------- Flight track ----------
function shape(p,fillC,edgeC,w){return {type:'scatter',showLine:true,data:poly(p),fill:'shape',backgroundColor:fillC,borderColor:edgeC,borderWidth:w,pointRadius:0,tension:0};}
const mapSets=[
 {label:'Last fix',data:pts(lastLon,lastLat),pointStyle:starImg,pointRadius:11,backgroundColor:STAR},
 {label:'Launch',data:pts(launchLon,launchLat),pointRadius:8,pointBackgroundColor:GREEN,pointBorderColor:'#000',pointBorderWidth:1.4},
 {label:'Track',data:pts(trackLon,trackLat),pointRadius:2.5,pointBackgroundColor:RED,pointBorderWidth:0},
 ...countryBorders.map(b=>({type:'scatter',showLine:true,data:poly(b),fill:false,borderColor:BORDER,borderWidth:0.8,pointRadius:0})),
 ...inlandWater.map(p=>shape(p,OCEAN,COAST,0.6)),
 ...[northAmerica,southAmerica,africa,eurasia,antarctica,australia,greenland,...islands].map(p=>shape(p,LAND,COAST,0.8))
];
const mapDash=[2,2], mapGrid='rgba(110,110,110,0.2)';
panel({x:83,y:31,w:697,h:307},{L:59,R:40,B:45},'Flight Track','scatter',mapSets,{
 x:xAxis({min:-180,max:180,ticks:lonTicks,B:45,title:'Longitude (deg)',dash:mapDash,gridColor:mapGrid}),
 y:yAxis({min:-90,max:90,ticks:latTicks,L:59,title:'Latitude (deg)',dash:mapDash,gridColor:mapGrid})
},{background:OCEAN,legend:{x:89.5,y:283.5,w:80,h:50,kx:104,tx:124.5,items:[
 {kind:'dot',label:'Track',y:292.3,color:RED,r:1.8},
 {kind:'dot',label:'Launch',y:308.3,color:GREEN,r:8,edge:'#000'},
 {kind:'star',label:'Last fix',y:323.3}]}});

// ---------- Wind speed ----------
panel({x:83,y:420,w:697,h:307},{L:52,R:40,B:70},'Wind Speed vs. Time','scatter',[
 {type:'scatter',showLine:true,data:pts(meanDay,windMean),borderColor:RED,borderWidth:1.7,pointRadius:0,tension:0},
 {data:pts(windDay,windSpeed),pointRadius:2.1,pointBackgroundColor:NAVY,pointBorderWidth:0},
 {type:'scatter',showLine:true,data:pts(bandDay,bandUpper),fill:'+1',backgroundColor:BAND,borderWidth:0,borderColor:'rgba(0,0,0,0)',pointRadius:0,tension:0},
 {type:'scatter',showLine:true,data:pts(bandDay,bandLower),fill:false,borderWidth:0,borderColor:'rgba(0,0,0,0)',pointRadius:0,tension:0}
],{
 x:xAxis({min:timeMinWind,max:timeMaxWind,ticks:timeTicks,labels:timeTickLabels,rot:20,B:70}),
 y:yAxis({min:0,max:74.4,ticks:windTicks,L:52,title:'Wind speed (m s\u207B\u00B9)'})
},{legend:{x:89.5,y:425.5,w:162,h:50,kx:104.5,tx:124.5,items:[
 {kind:'patch',label:'\u00B11\u03C3 propagated error',y:435.3,fill:BAND},
 {kind:'dot',label:'Wind speed',y:450,color:NAVY,r:1.8},
 {kind:'line',label:'Daily mean',y:466,color:RED}]}});

// ---------- Latitude ----------
panel({x:869,y:420,w:697,h:307},{L:59,R:22,B:70},'Latitude vs. Time','scatter',[
 {data:pts(trackDay,trackLat),pointRadius:2.2,pointBackgroundColor:'#000',pointBorderWidth:0}
],{
 x:xAxis({min:timeMinLat,max:timeMaxLat,ticks:timeTicks,labels:timeTickLabels,rot:20,B:70}),
 y:yAxis({min:-90,max:90,ticks:latTicks,L:59,title:'Latitude (deg)'})
});

// ---------- Altitude ----------
panel({x:83,y:808,w:697,h:307},{L:73,R:40,B:66},'Balloon Altitude vs. Time','scatter',[
 {type:'scatter',showLine:true,data:pts(meanDay,altMean),borderColor:RED,borderWidth:2.1,pointRadius:0,tension:0},
 {data:pts(altDay,altValue),pointRadius:2.1,pointBackgroundColor:GREY,pointBorderWidth:0}
],{
 x:xAxis({min:timeMinWind,max:timeMaxWind,ticks:timeTicks,labels:timeTickLabels,rot:20,B:66,title:'UTC date'}),
 y:yAxis({min:7341,max:12273,ticks:altTicks,L:73,title:'Altitude (m AMSL)'})
});

// ---------- Histogram ----------
panel({x:869,y:808,w:697,h:307},{L:47,R:22,B:49},'U and V Wind Components','bar',[
 {label:'V (meridional)',data:pts(binCentersV,binCountsV),backgroundColor:CV,borderColor:EDGE,borderWidth:1,order:1,grouped:false,barPercentage:1,categoryPercentage:1},
 {label:'U (zonal)',data:pts(binCentersU,binCountsU),backgroundColor:CU,borderColor:EDGE,borderWidth:1,order:2,grouped:false,barPercentage:1,categoryPercentage:1}
],{
 x:xAxis({min:-100,max:100,ticks:histXTicks,B:49,title:'Wind speed (m s\u207B\u00B9)'}),
 y:yAxis({min:0,max:52.5,ticks:histYTicks,L:47,title:'Frequency'})
},{legend:{x:1440.5,y:814.5,w:117,h:34,kx:1456,tx:1475,items:[
 {kind:'patch',label:'U (zonal)',y:824,fill:CU,edge:EDGE},
 {kind:'patch',label:'V (meridional)',y:839,fill:CV,edge:EDGE}]}});

// ---------- Info text ----------
infoLines.forEach(l=>{const d=document.createElement('div');d.className='info';d.textContent=l[0];
 d.style.top=l[1]+'px';d.style.fontSize=l[2]+'px';d.style.color=l[3];document.body.appendChild(d);});
</script>
</body></html>
